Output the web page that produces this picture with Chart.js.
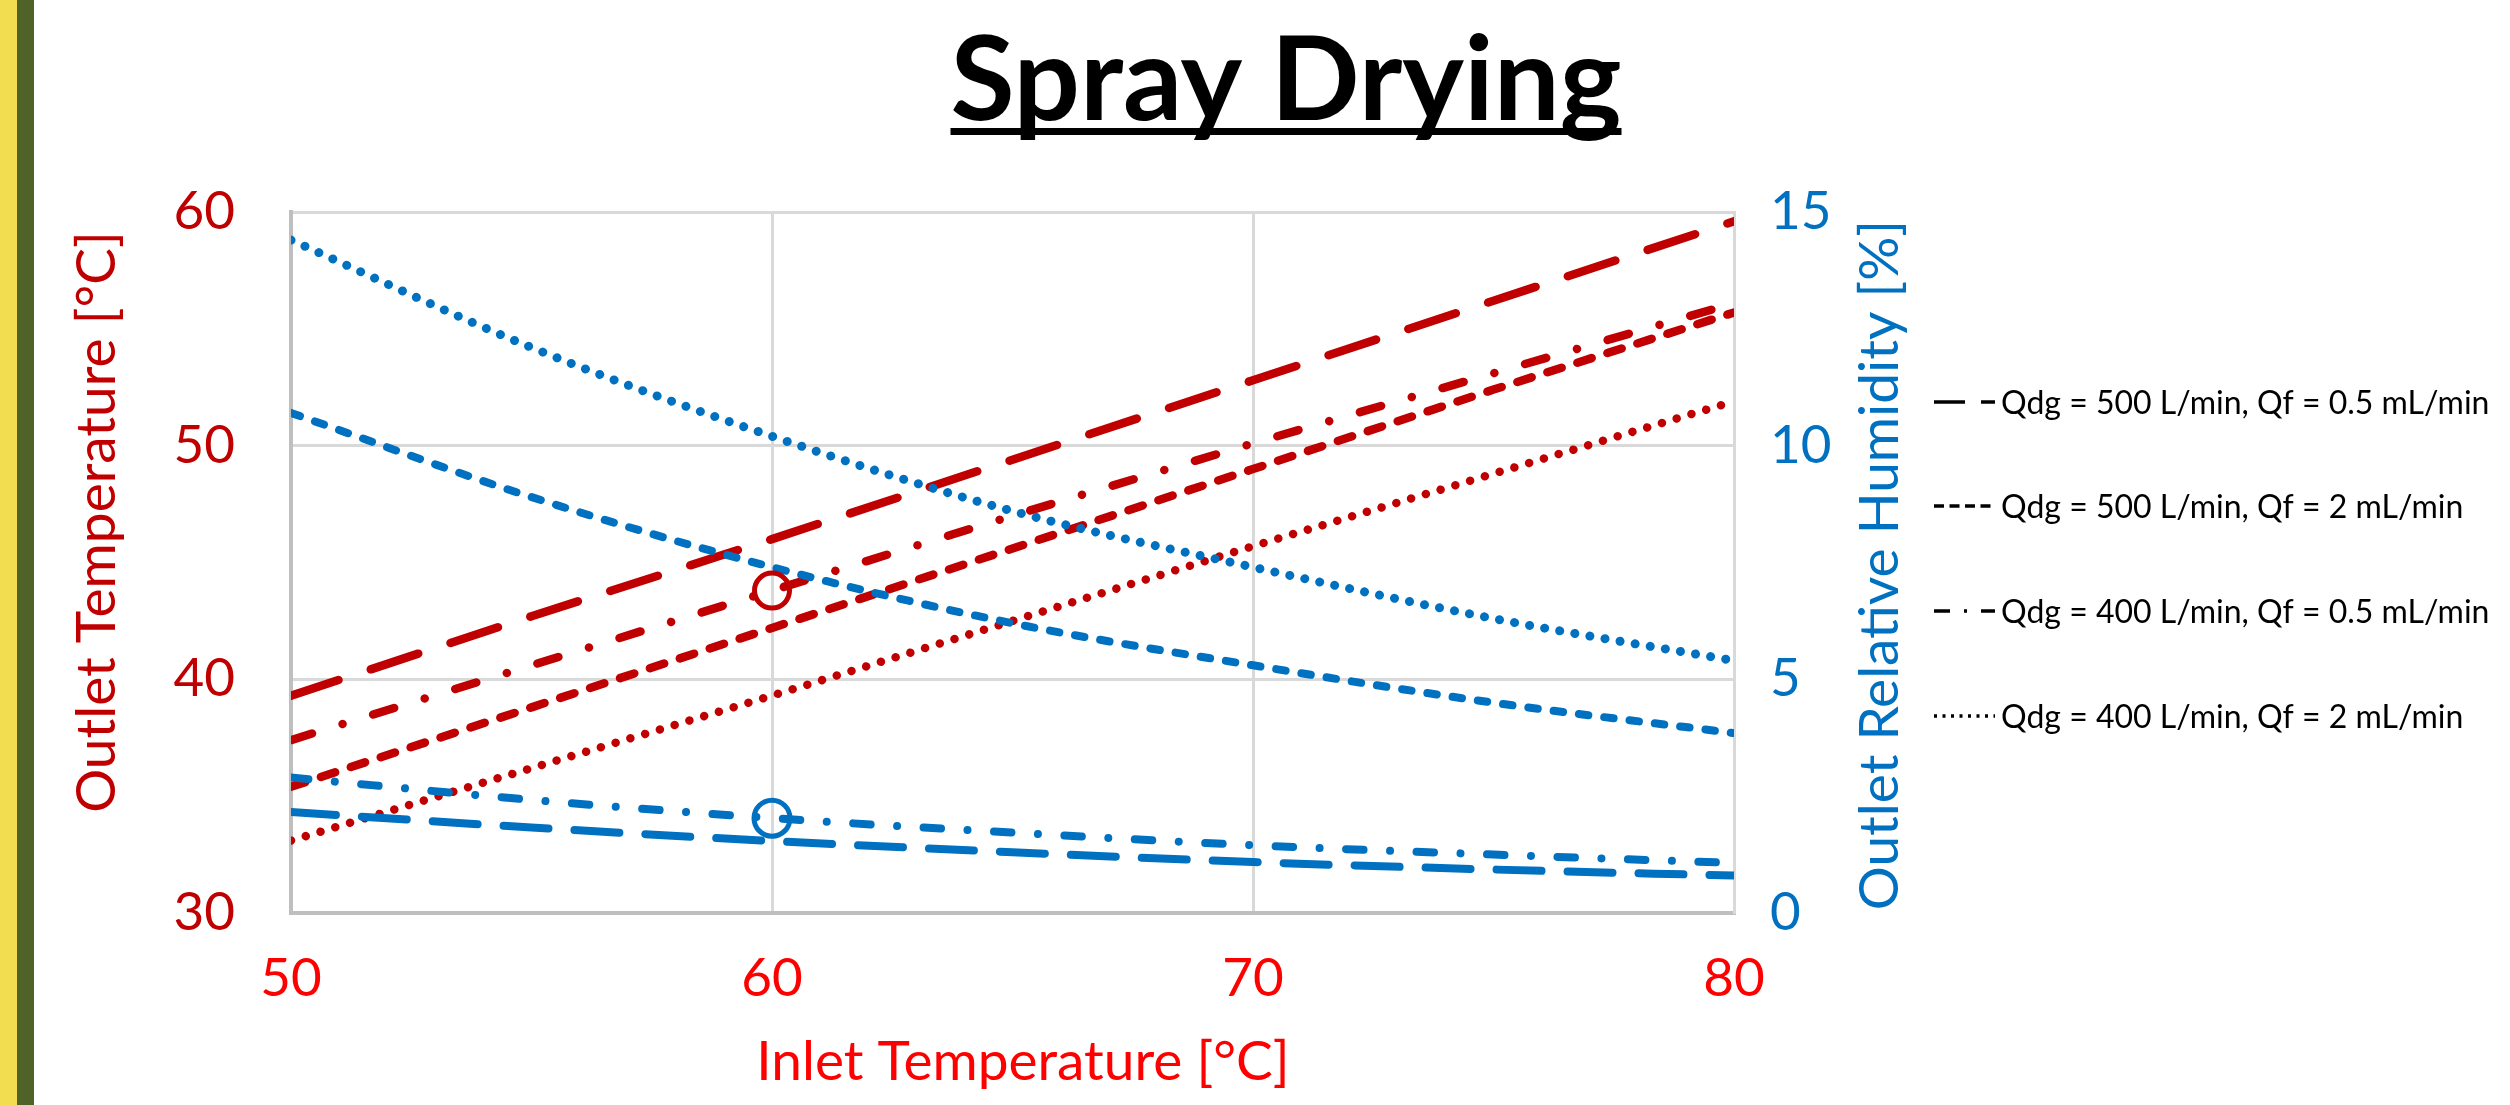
<!DOCTYPE html>
<html>
<head>
<meta charset="utf-8">
<script src="https://cdn.jsdelivr.net/npm/chart.js@4.4.1/dist/chart.umd.min.js"></script>
<style>
  html, body { margin: 0; padding: 0; background: #ffffff; overflow: hidden; }
  #wrap { position: relative; width: 2510px; height: 1105px; }
  #stripeY { position: absolute; left: 0; top: 0; width: 17px; height: 1105px; background: #F2DC50; }
  #stripeG { position: absolute; left: 17px; top: 0; width: 17px; height: 1105px; background: #4F6228; }
  canvas { position: absolute; left: 0; top: 0; }
</style>
</head>
<body>
<div id="wrap">
  <canvas id="c" width="2510" height="1105"></canvas>
  <div id="stripeY"></div>
  <div id="stripeG"></div>
</div>
<script>
// ---------- data ----------
const inletTemp = [50, 55, 60, 65, 70, 75, 80];

// Outlet temperature [°C] (left axis)
const tempQdg500Qf05 = [39.3, 42.7, 46.0, 49.4, 52.8, 56.2, 59.6];
const tempQdg500Qf2  = [35.4, 38.8, 42.2, 45.6, 49.0, 52.4, 55.7];
const tempQdg400Qf05 = [37.4, 40.6, 43.8, 47.0, 50.1, 53.1, 56.1];
const tempQdg400Qf2  = [33.1, 36.2, 39.3, 42.5, 45.7, 48.8, 51.9];

// Outlet relative humidity [%] (right axis)
const rhQdg500Qf05 = [2.16, 1.83, 1.54, 1.30, 1.09, 0.93, 0.80];
const rhQdg500Qf2  = [10.7, 8.9, 7.4, 6.2, 5.3, 4.5, 3.85];
const rhQdg400Qf05 = [2.9, 2.42, 2.03, 1.72, 1.45, 1.25, 1.07];
const rhQdg400Qf2  = [14.4, 12.1, 10.2, 8.6, 7.4, 6.3, 5.4];

// highlighted operating point
const markerInlet = [60];
const markerTemp  = [43.8];
const markerRH    = [2.03];

// tick labels
const xTickValues  = [50, 60, 70, 80];
const yTickValues  = [30, 40, 50, 60];
const y2TickValues = [0, 5, 10, 15];

const legendLabels = [
  'Qdg = 500 L/min, Qf = 0.5 mL/min',
  'Qdg = 500 L/min, Qf = 2 mL/min',
  'Qdg = 400 L/min, Qf = 0.5 mL/min',
  'Qdg = 400 L/min, Qf = 2 mL/min'
];
const chartTitle = 'Spray Drying';
const xTitle  = 'Inlet Temperature [°C]';
const yTitle  = 'Outlet Temperature [°C]';
const y2Title = 'Outlet Relative Humidity [%]';

// ---------- styling ----------
const RED = '#C00000', BLUE = '#0070C0', XRED = '#FF0000';
const FONT = 'Lato, "Open Sans", sans-serif';
const pts = (arr) => inletTemp.map((x, i) => ({ x: x, y: arr[i] }));

const redW = 8.5, blueW = 8;
const styles = {
  longDash: { red: [50, 34], blue: [45, 26] },
  shortDash: { red: [15, 16.5], blue: [9.5, 16] },
  dashDot: { red: [22, 32, 0.01, 32], blue: [17.5, 26.5, 0.01, 26.5] },
  dotted: { red: [0.01, 15.4], blue: [0.01, 15.3] }
};

function line(label, arr, axis, color, width, dash, smooth) {
  return {
    label: label, data: pts(arr), yAxisID: axis,
    borderColor: color, borderWidth: width, borderDash: dash,
    borderCapStyle: 'round', borderJoinStyle: 'round',
    pointRadius: 0, pointHoverRadius: 0, fill: false,
    tension: smooth ? 0.4 : 0,
    cubicInterpolationMode: smooth ? 'monotone' : 'default'
  };
}

const datasets = [
  {
    label: 'marker T', data: markerInlet.map((x, i) => ({ x: x, y: markerTemp[i] })), yAxisID: 'y',
    showLine: false, pointRadius: 17.5, pointBorderWidth: 5, pointBorderColor: RED,
    pointBackgroundColor: 'rgba(0,0,0,0)', borderColor: RED
  },
  {
    label: 'marker RH', data: markerInlet.map((x, i) => ({ x: x, y: markerRH[i] })), yAxisID: 'y2',
    showLine: false, pointRadius: 18, pointBorderWidth: 5, pointBorderColor: BLUE,
    pointBackgroundColor: 'rgba(0,0,0,0)', borderColor: BLUE
  },
  line('RH ' + legendLabels[0], rhQdg500Qf05, 'y2', BLUE, blueW, styles.longDash.blue, true),
  line('RH ' + legendLabels[1], rhQdg500Qf2, 'y2', BLUE, blueW, styles.shortDash.blue, true),
  line('RH ' + legendLabels[2], rhQdg400Qf05, 'y2', BLUE, blueW, styles.dashDot.blue, true),
  line('RH ' + legendLabels[3], rhQdg400Qf2, 'y2', BLUE, 9, styles.dotted.blue, true),
  line('T ' + legendLabels[0], tempQdg500Qf05, 'y', RED, redW, styles.longDash.red, false),
  line('T ' + legendLabels[1], tempQdg500Qf2, 'y', RED, redW, styles.shortDash.red, false),
  line('T ' + legendLabels[2], tempQdg400Qf05, 'y', RED, redW, styles.dashDot.red, false),
  line('T ' + legendLabels[3], tempQdg400Qf2, 'y', RED, 8.5, styles.dotted.red, false)
];

const legendDash = [[31, 16], [10, 5.5], [16, 14, 3, 14], [3, 5.5]];

const decorPlugin = {
  id: 'decor',
  afterDraw(chart) {
    const ctx = chart.ctx;
    ctx.save();
    // main title
    ctx.fillStyle = '#000000';
    ctx.font = 'bold 117px ' + FONT;
    ctx.textAlign = 'center';
    ctx.textBaseline = 'alphabetic';
    const tw = ctx.measureText(chartTitle).width;
    const tcx = 1286;
    ctx.fillText(chartTitle, tcx, 120);
    ctx.fillRect(tcx - tw / 2, 128, tw, 7);

    // axis titles
    ctx.font = '55px ' + FONT;
    ctx.textBaseline = 'middle';
    ctx.fillStyle = XRED;
    ctx.fillText(xTitle, 1023, 1062);

    ctx.save();
    ctx.fillStyle = RED;
    ctx.translate(97, 522);
    ctx.rotate(-Math.PI / 2);
    ctx.fillText(yTitle, 0, 0);
    ctx.restore();

    ctx.save();
    ctx.fillStyle = BLUE;
    ctx.translate(1880, 565);
    ctx.rotate(-Math.PI / 2);
    ctx.fillText(y2Title, 0, 0);
    ctx.restore();

    // legend
    const rows = [402, 506, 611, 716];
    ctx.font = '32px ' + FONT;
    ctx.textAlign = 'left';
    ctx.textBaseline = 'alphabetic';
    legendLabels.forEach((lab, i) => {
      const y = rows[i];
      ctx.strokeStyle = '#000000';
      ctx.lineWidth = 3.5;
      ctx.lineCap = 'butt';
      ctx.setLineDash(legendDash[i]);
      ctx.beginPath();
      ctx.moveTo(1934, y);
      ctx.lineTo(1995, y);
      ctx.stroke();
      ctx.setLineDash([]);
      ctx.fillStyle = '#000000';
      ctx.fillText(lab, 2001, y + 11.5);
    });
    ctx.restore();
  }
};

function build() {
  new Chart(document.getElementById('c'), {
    type: 'line',
    data: { datasets: datasets },
    plugins: [decorPlugin],
    options: {
      responsive: false,
      devicePixelRatio: 1,
      animation: false,
      events: [],
      layout: { padding: { top: 212, left: 0, right: 0, bottom: 0 } },
      plugins: { legend: { display: false }, tooltip: { enabled: false }, title: { display: false } },
      scales: {
        x: {
          type: 'linear', position: 'bottom', min: 50, max: 80,
          afterBuildTicks: (s) => { s.ticks = xTickValues.map(v => ({ value: v })); },
          afterFit: (s) => { s.height = 192; },
          ticks: { color: XRED, font: { family: FONT, size: 53 }, padding: 34, maxRotation: 0 },
          grid: {
            drawTicks: false, lineWidth: 3,
            color: (c) => c.index === 0 ? '#BFBFBF' : '#D9D9D9'
          },
          border: { display: true, color: '#BFBFBF', width: 4 }
        },
        y: {
          type: 'linear', position: 'left', min: 30, max: 60,
          afterBuildTicks: (s) => { s.ticks = yTickValues.map(v => ({ value: v })); },
          afterFit: (s) => { s.width = 291; },
          ticks: { color: RED, font: { family: FONT, size: 53 }, padding: 56 },
          grid: {
            drawTicks: false, lineWidth: 3,
            color: (c) => c.index === 0 ? '#BFBFBF' : '#D9D9D9'
          },
          border: { display: true, color: '#BFBFBF', width: 4 }
        },
        y2: {
          type: 'linear', position: 'right', min: 0, max: 15,
          afterBuildTicks: (s) => { s.ticks = y2TickValues.map(v => ({ value: v })); },
          afterFit: (s) => { s.width = 2510 - 1734; },
          ticks: { color: BLUE, font: { family: FONT, size: 53 }, padding: 36 },
          grid: { display: false, drawTicks: false },
          border: { display: true, color: '#D9D9D9', width: 3 }
        }
      }
    }
  });
}

Promise.all([
  document.fonts.load('53px Lato'),
  document.fonts.load('bold 117px Lato'),
  document.fonts.load('32px Lato')
]).then(build, build);
</script>
</body>
</html>
